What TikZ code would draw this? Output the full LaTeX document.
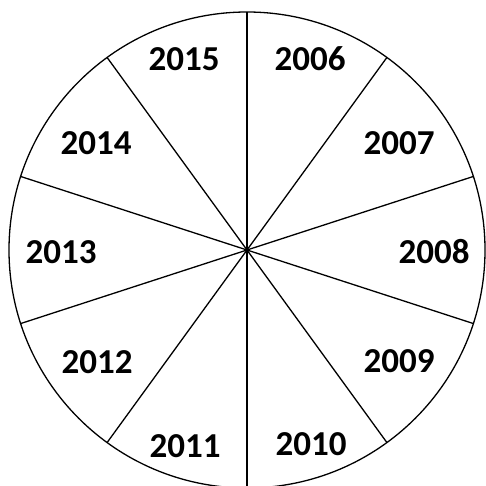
\documentclass[tikz,border=0pt]{standalone}
\usepackage{fontspec}
\setmainfont{Carlito}
\begin{document}
\begin{tikzpicture}[x=1pt,y=-1pt,line width=1.3pt,
	year/.style={font=\fontsize{35}{35}\selectfont\bfseries,inner sep=0pt}]
	\useasboundingbox (0,0) rectangle (486,485);
	\coordinate (o) at (247,250);
	\draw (o) circle(238);
	\foreach \a in {90,54,...,-234}
		\draw (o)--++(\a:238);
	\node[year] (y2006) at (310,59) {2006};
	\node[year] (y2007) at (399,143) {2007};
	\node[year] (y2008) at (434,252) {2008};
	\node[year] (y2009) at (399,361) {2009};
	\node[year] (y2010) at (311,444) {2010};
	\node[year] (y2011) at (185,446) {2011};
	\node[year] (y2012) at (97,362) {2012};
	\node[year] (y2013) at (61,252) {2013};
	\node[year] (y2014) at (96,143) {2014};
	\node[year] (y2015) at (184,59) {2015};
\end{tikzpicture}
\end{document}
